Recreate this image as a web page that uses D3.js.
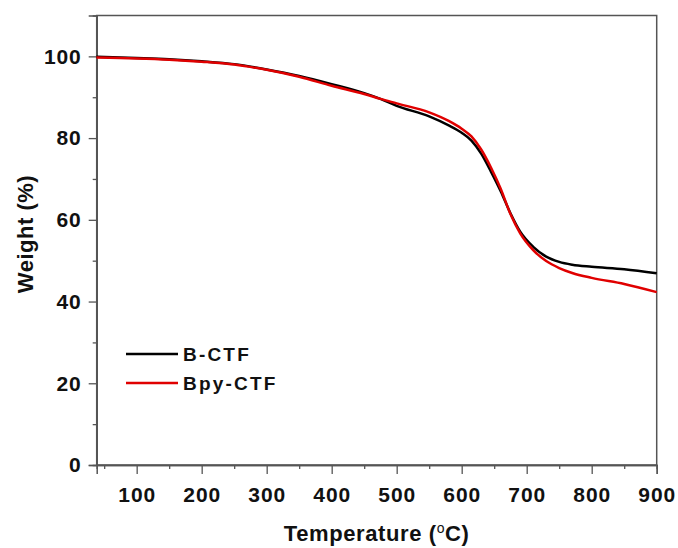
<!DOCTYPE html>
<html>
<head>
<meta charset="utf-8">
<script src="https://cdn.jsdelivr.net/npm/d3@7"></script>
<style>
  html, body { margin: 0; padding: 0; background: #fff; }
  svg { display: block; }
  text { font-family: "Liberation Sans", Arial, sans-serif; font-weight: bold; fill: #111; }
</style>
</head>
<body>
<svg id="chart" width="678" height="548"></svg>
<script>
// TGA curves: temperature (°C) vs. residual weight (%)
const temperature = [38, 100, 150, 200, 250, 300, 350, 400, 450, 475, 500, 550, 580, 600, 615, 630, 645, 660, 675, 690, 710, 730, 750, 770, 800, 850, 900];
const weightBCTF   = [99.9, 99.6, 99.3, 98.8, 98.1, 96.8, 95.2, 93.2, 91.0, 89.6, 87.9, 85.3, 83.1, 81.3, 79.4, 76.2, 71.8, 67.0, 61.6, 57.1, 53.4, 51.0, 49.7, 49.0, 48.5, 47.9, 46.9];
const weightBpyCTF = [99.7, 99.5, 99.2, 98.7, 98.0, 96.7, 95.0, 92.8, 90.8, 89.6, 88.5, 86.3, 84.2, 82.3, 80.4, 77.2, 72.8, 67.6, 61.4, 56.7, 52.6, 49.9, 48.2, 47.0, 45.8, 44.3, 42.3];
const seriesNames  = ["B-CTF", "Bpy-CTF"];
const seriesColors = ["#000000", "#e00000"];
const xTicks = [100, 200, 300, 400, 500, 600, 700, 800, 900];
const xMinorTicks = [50, 150, 250, 350, 450, 550, 650, 750, 850];
const yTicks = [0, 20, 40, 60, 80, 100];
const yMinorTicks = [10, 30, 50, 70, 90];

const width = 678, height = 548;
const margin = { top: 15.5, right: 21.3, bottom: 83, left: 96.7 };
const svg = d3.select("#chart");

const x = d3.scaleLinear().domain([38.5, 900]).range([margin.left, width - margin.right]);
const y = d3.scaleLinear().domain([0, 110]).range([height - margin.bottom, margin.top]);

const frameColor = "#555";

// plot frame
svg.append("rect")
  .attr("x", x.range()[0]).attr("y", y.range()[1])
  .attr("width", x.range()[1] - x.range()[0])
  .attr("height", y.range()[0] - y.range()[1])
  .attr("fill", "none").attr("stroke", frameColor).attr("stroke-width", 1.5);

// bottom axis
const xAxis = svg.append("g").attr("transform", `translate(0,${y(0)})`)
  .call(d3.axisBottom(x).tickValues(xTicks).tickSize(9).tickPadding(8).tickFormat(d3.format("d")));
svg.append("g").attr("transform", `translate(0,${y(0)})`)
  .call(d3.axisBottom(x).tickValues(xMinorTicks).tickSize(4).tickFormat(""));

// left axis
const yAxis = svg.append("g").attr("transform", `translate(${x.range()[0]},0)`)
  .call(d3.axisLeft(y).tickValues(yTicks).tickSize(8).tickPadding(7).tickFormat(d3.format("d")));
svg.append("g").attr("transform", `translate(${x.range()[0]},0)`)
  .call(d3.axisLeft(y).tickValues(yMinorTicks).tickSize(4).tickFormat(""));

svg.selectAll(".domain").attr("stroke", frameColor).attr("stroke-width", 1.5);
svg.selectAll(".tick line").attr("stroke", frameColor).attr("stroke-width", 1.3);
svg.selectAll(".tick text")
  .style("font-family", "'Liberation Sans', Arial, sans-serif")
  .style("font-weight", "bold").style("font-size", "21px")
  .style("letter-spacing", "0.9px").attr("fill", "#111");
xAxis.selectAll(".tick text").attr("dy", "0.95em");

// curves
const line = d3.line()
  .x(d => x(d[0]))
  .y(d => y(d[1]))
  .curve(d3.curveMonotoneX);

const seriesValues = [weightBCTF, weightBpyCTF];
seriesValues.forEach((vals, i) => {
  svg.append("path")
    .datum(temperature.map((t, j) => [t, vals[j]]))
    .attr("fill", "none")
    .attr("stroke", seriesColors[i])
    .attr("stroke-width", 2.5)
    .attr("d", line);
});

// legend
const legend = svg.append("g");
seriesNames.forEach((name, i) => {
  const ly = 354 + i * 29;
  legend.append("line")
    .attr("x1", 126).attr("x2", 178).attr("y1", ly).attr("y2", ly)
    .attr("stroke", seriesColors[i]).attr("stroke-width", 2.3);
  legend.append("text")
    .attr("x", 183).attr("y", ly).attr("dy", "0.36em")
    .style("font-size", "19px")
    .style("letter-spacing", "2.2px")
    .text(name);
});

// axis titles
const xTitle = svg.append("text")
  .attr("x", (x.range()[0] + x.range()[1]) / 2)
  .attr("y", 541)
  .attr("text-anchor", "middle")
  .style("font-size", "22px")
  .style("letter-spacing", "0.6px");
xTitle.append("tspan").text("Temperature (");
xTitle.append("tspan").text("o").attr("dy", -8).style("font-size", "14px").style("font-weight", "normal");
xTitle.append("tspan").text("C)").attr("dy", 8);

svg.append("text")
  .attr("transform", `translate(33,234) rotate(-90)`)
  .attr("text-anchor", "middle")
  .style("font-size", "22px")
  .style("letter-spacing", "0.5px")
  .text("Weight (%)");
</script>
</body>
</html>
